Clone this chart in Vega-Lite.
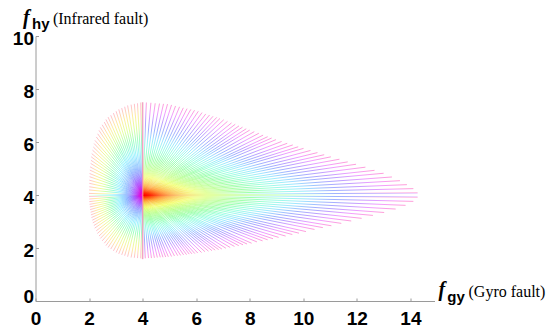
{
  "$schema": "https://vega.github.io/schema/vega-lite/v6.json",
  "width": 399,
  "height": 265,
  "autosize": {"type": "none"},
  "padding": {"left": 35.5, "top": 36, "right": 115.5, "bottom": 35},
  "background": "white",
  "config": {"view": {"stroke": null}, "axis": {"grid": false}},
  "datasets": {
    "ur": [
      {"x":14.27,"y":4.08},{"x":14.11,"y":4.24},{"x":13.87,"y":4.39},{"x":13.61,"y":4.54},{"x":13.31,"y":4.68},{"x":13.0,"y":4.82},{"x":12.66,"y":4.93},{"x":12.32,"y":5.05},{"x":11.97,"y":5.16},{"x":11.66,"y":5.25},{"x":11.35,"y":5.35},{"x":11.03,"y":5.44},{"x":10.78,"y":5.52},{"x":10.53,"y":5.6},{"x":10.27,"y":5.68},{"x":10.01,"y":5.76},{"x":9.81,"y":5.82},{"x":9.61,"y":5.89},{"x":9.4,"y":5.95},{"x":9.19,"y":6.02},{"x":8.98,"y":6.09},{"x":8.82,"y":6.15},{"x":8.67,"y":6.2},{"x":8.5,"y":6.26},{"x":8.34,"y":6.33},{"x":8.17,"y":6.39},{"x":8.0,"y":6.45},{"x":7.87,"y":6.5},{"x":7.73,"y":6.56},{"x":7.6,"y":6.61},{"x":7.46,"y":6.67},{"x":7.32,"y":6.72},{"x":7.17,"y":6.78},{"x":7.03,"y":6.84},{"x":6.89,"y":6.89},{"x":6.77,"y":6.93},{"x":6.63,"y":6.97},{"x":6.5,"y":7.02},{"x":6.36,"y":7.06},{"x":6.22,"y":7.11},{"x":6.08,"y":7.16},{"x":5.94,"y":7.2},{"x":5.8,"y":7.23},{"x":5.66,"y":7.26},{"x":5.52,"y":7.29},{"x":5.38,"y":7.33},{"x":5.23,"y":7.36},{"x":5.08,"y":7.4},{"x":4.93,"y":7.43},{"x":4.78,"y":7.44},{"x":4.63,"y":7.45},{"x":4.47,"y":7.46},{"x":4.31,"y":7.48},{"x":4.14,"y":7.49}
    ],
    "lr": [
      {"x":14.27,"y":3.92},{"x":14.11,"y":3.76},{"x":13.82,"y":3.61},{"x":13.45,"y":3.47},{"x":13.02,"y":3.34},{"x":12.6,"y":3.23},{"x":12.18,"y":3.12},{"x":11.79,"y":3.02},{"x":11.42,"y":2.93},{"x":11.05,"y":2.84},{"x":10.73,"y":2.77},{"x":10.42,"y":2.7},{"x":10.1,"y":2.62},{"x":9.84,"y":2.56},{"x":9.59,"y":2.51},{"x":9.34,"y":2.45},{"x":9.08,"y":2.4},{"x":8.87,"y":2.35},{"x":8.67,"y":2.31},{"x":8.48,"y":2.27},{"x":8.27,"y":2.23},{"x":8.07,"y":2.18},{"x":7.9,"y":2.15},{"x":7.75,"y":2.12},{"x":7.59,"y":2.09},{"x":7.43,"y":2.06},{"x":7.27,"y":2.02},{"x":7.11,"y":1.99},{"x":6.96,"y":1.96},{"x":6.84,"y":1.94},{"x":6.71,"y":1.92},{"x":6.59,"y":1.9},{"x":6.46,"y":1.88},{"x":6.33,"y":1.86},{"x":6.2,"y":1.83},{"x":6.06,"y":1.81},{"x":5.95,"y":1.79},{"x":5.84,"y":1.78},{"x":5.74,"y":1.77},{"x":5.64,"y":1.75},{"x":5.53,"y":1.74},{"x":5.42,"y":1.72},{"x":5.31,"y":1.71},{"x":5.19,"y":1.7},{"x":5.08,"y":1.68},{"x":4.96,"y":1.67},{"x":4.86,"y":1.66},{"x":4.76,"y":1.65},{"x":4.66,"y":1.65},{"x":4.55,"y":1.64},{"x":4.44,"y":1.63},{"x":4.33,"y":1.62},{"x":4.22,"y":1.62},{"x":4.1,"y":1.61}
    ],
    "ul": [
      {"x":2.0,"y":4.06},{"x":2.0,"y":4.19},{"x":2.01,"y":4.31},{"x":2.01,"y":4.44},{"x":2.01,"y":4.56},{"x":2.02,"y":4.69},{"x":2.02,"y":4.81},{"x":2.03,"y":4.94},{"x":2.04,"y":5.06},{"x":2.06,"y":5.19},{"x":2.07,"y":5.31},{"x":2.08,"y":5.44},{"x":2.1,"y":5.56},{"x":2.13,"y":5.69},{"x":2.16,"y":5.81},{"x":2.19,"y":5.94},{"x":2.22,"y":6.06},{"x":2.27,"y":6.19},{"x":2.32,"y":6.31},{"x":2.37,"y":6.44},{"x":2.42,"y":6.55},{"x":2.49,"y":6.65},{"x":2.57,"y":6.75},{"x":2.63,"y":6.85},{"x":2.71,"y":6.94},{"x":2.81,"y":7.01},{"x":2.91,"y":7.09},{"x":3.01,"y":7.16},{"x":3.11,"y":7.23},{"x":3.22,"y":7.28},{"x":3.33,"y":7.33},{"x":3.44,"y":7.38},{"x":3.57,"y":7.41},{"x":3.69,"y":7.44},{"x":3.81,"y":7.46},{"x":3.93,"y":7.49}
    ],
    "ll": [
      {"x":2.0,"y":3.95},{"x":2.01,"y":3.85},{"x":2.01,"y":3.75},{"x":2.02,"y":3.65},{"x":2.03,"y":3.55},{"x":2.04,"y":3.45},{"x":2.06,"y":3.35},{"x":2.07,"y":3.25},{"x":2.09,"y":3.15},{"x":2.12,"y":3.05},{"x":2.14,"y":2.95},{"x":2.18,"y":2.85},{"x":2.21,"y":2.75},{"x":2.27,"y":2.65},{"x":2.31,"y":2.55},{"x":2.37,"y":2.45},{"x":2.42,"y":2.36},{"x":2.49,"y":2.27},{"x":2.57,"y":2.18},{"x":2.63,"y":2.09},{"x":2.71,"y":2.02},{"x":2.81,"y":1.96},{"x":2.91,"y":1.89},{"x":3.01,"y":1.83},{"x":3.11,"y":1.78},{"x":3.22,"y":1.74},{"x":3.33,"y":1.71},{"x":3.44,"y":1.67},{"x":3.57,"y":1.64},{"x":3.69,"y":1.63},{"x":3.81,"y":1.62},{"x":3.93,"y":1.61}
    ],
    "vline": [{"x":4,"y":1.58,"y2":7.5}],
    "one": [{}]
  },
  "layer": [
    {
      "data": {"name": "ll"},
      "mark": {"type": "rule", "strokeWidth": 1, "opacity": 0.38,
        "stroke": {"gradient": "linear", "x1": 1, "y1": 0, "x2": 0, "y2": 1,
          "stops": [{"offset":0,"color":"#ff00cc"},{"offset":0.15,"color":"#8000ff"},{"offset":0.3,"color":"#0060ff"},{"offset":0.45,"color":"#00e0ff"},{"offset":0.6,"color":"#00ff60"},{"offset":0.75,"color":"#c0ff00"},{"offset":0.87,"color":"#ffd000"},{"offset":1,"color":"#ff5080"}]}},
      "encoding": {
        "x": {"field": "x", "type": "quantitative",
          "scale": {"domain": [0, 14.9], "nice": false, "zero": false},
          "axis": {"values": [0,0.5,1,1.5,2,2.5,3,3.5,4,4.5,5,5.5,6,6.5,7,7.5,8,8.5,9,9.5,10,10.5,11,11.5,12,12.5,13,13.5,14,14.5],
            "labelExpr": "datum.value % 2 === 0 ? datum.label : ''",
            "title": null, "domainColor": "#9a9a9a", "tickColor": "#9a9a9a", "tickSize": -3,
            "labelPadding": 11, "labelFont": "Liberation Sans", "labelFontWeight": "bold", "labelFontSize": 19,
            "labelColor": "#000000", "labelFlush": false, "labelOverlap": false, "labelBound": false}},
        "y": {"field": "y", "type": "quantitative",
          "scale": {"domain": [0, 10], "nice": false, "zero": false},
          "axis": {"values": [0,0.5,1,1.5,2,2.5,3,3.5,4,4.5,5,5.5,6,6.5,7,7.5,8,8.5,9,9.5,10],
            "labelExpr": "datum.value % 2 === 0 ? datum.label : ''",
            "title": null, "domainColor": "#9a9a9a", "tickColor": "#9a9a9a", "tickSize": -3,
            "labelPadding": 5, "labelFont": "Liberation Sans", "labelFontWeight": "bold", "labelFontSize": 19,
            "labelColor": "#000000", "labelFlush": false, "labelOverlap": false, "labelBound": false,
            "labelOffset": {"condition": {"test": "datum.value === 0", "value": -5}, "value": 2}}},
        "x2": {"datum": 4},
        "y2": {"datum": 4}
      }
    },
    {
      "data": {"name": "ul"},
      "mark": {"type": "rule", "strokeWidth": 1, "opacity": 0.38,
        "stroke": {"gradient": "linear", "x1": 1, "y1": 1, "x2": 0, "y2": 0,
          "stops": [{"offset":0,"color":"#ff00cc"},{"offset":0.15,"color":"#8000ff"},{"offset":0.3,"color":"#0060ff"},{"offset":0.45,"color":"#00e0ff"},{"offset":0.6,"color":"#00ff60"},{"offset":0.75,"color":"#c0ff00"},{"offset":0.87,"color":"#ffd000"},{"offset":1,"color":"#ff5080"}]}},
      "encoding": {
        "x": {"field": "x", "type": "quantitative"},
        "y": {"field": "y", "type": "quantitative"},
        "x2": {"datum": 4},
        "y2": {"datum": 4}
      }
    },
    {
      "data": {"name": "lr"},
      "mark": {"type": "rule", "strokeWidth": 1, "opacity": 0.38,
        "stroke": {"gradient": "linear", "x1": 0, "y1": 0, "x2": 1, "y2": 1,
          "stops": [{"offset":0,"color":"#ff0000"},{"offset":0.1,"color":"#ff8a00"},{"offset":0.2,"color":"#eaff00"},{"offset":0.3,"color":"#62ff00"},{"offset":0.4,"color":"#00ff2a"},{"offset":0.5,"color":"#00ffb3"},{"offset":0.6,"color":"#00c4ff"},{"offset":0.7,"color":"#0037ff"},{"offset":0.8,"color":"#5100ff"},{"offset":0.9,"color":"#dd00ff"},{"offset":1,"color":"#ff0099"}]}},
      "encoding": {
        "x": {"field": "x", "type": "quantitative"},
        "y": {"field": "y", "type": "quantitative"},
        "x2": {"datum": 4},
        "y2": {"datum": 4}
      }
    },
    {
      "data": {"name": "ur"},
      "mark": {"type": "rule", "strokeWidth": 1, "opacity": 0.38,
        "stroke": {"gradient": "linear", "x1": 0, "y1": 1, "x2": 1, "y2": 0,
          "stops": [{"offset":0,"color":"#ff0000"},{"offset":0.1,"color":"#ff8a00"},{"offset":0.2,"color":"#eaff00"},{"offset":0.3,"color":"#62ff00"},{"offset":0.4,"color":"#00ff2a"},{"offset":0.5,"color":"#00ffb3"},{"offset":0.6,"color":"#00c4ff"},{"offset":0.7,"color":"#0037ff"},{"offset":0.8,"color":"#5100ff"},{"offset":0.9,"color":"#dd00ff"},{"offset":1,"color":"#ff0099"}]}},
      "encoding": {
        "x": {"field": "x", "type": "quantitative"},
        "y": {"field": "y", "type": "quantitative"},
        "x2": {"datum": 4},
        "y2": {"datum": 4}
      }
    },
    {
      "data": {"name": "vline"},
      "mark": {"type": "rule", "strokeWidth": 1.5, "color": "#f08cb4", "opacity": 0.8},
      "encoding": {
        "x": {"field": "x", "type": "quantitative"},
        "y": {"field": "y", "type": "quantitative"},
        "y2": {"field": "y2"}
      }
    },
    {
      "data": {"name": "one"},
      "mark": {"type": "text", "text": "f", "font": "Liberation Serif", "fontStyle": "italic", "fontWeight": "bold", "fontSize": 20, "align": "left", "baseline": "alphabetic", "color": "#000000"},
      "encoding": {"x": {"datum": -0.47}, "y": {"datum": 10.45}}
    },
    {
      "data": {"name": "one"},
      "mark": {"type": "text", "text": "hy", "font": "Liberation Sans", "fontWeight": "bold", "fontSize": 15, "align": "left", "baseline": "alphabetic", "color": "#000000"},
      "encoding": {"x": {"datum": -0.13}, "y": {"datum": 10.26}}
    },
    {
      "data": {"name": "one"},
      "mark": {"type": "text", "text": "(Infrared fault)", "font": "Liberation Serif", "fontSize": 16, "align": "left", "baseline": "alphabetic", "color": "#000000"},
      "encoding": {"x": {"datum": 0.65}, "y": {"datum": 10.45}}
    },
    {
      "data": {"name": "one"},
      "mark": {"type": "text", "text": "f", "font": "Liberation Serif", "fontStyle": "italic", "fontWeight": "bold", "fontSize": 20, "align": "left", "baseline": "alphabetic", "color": "#000000"},
      "encoding": {"x": {"datum": 15.05}, "y": {"datum": 0.19}}
    },
    {
      "data": {"name": "one"},
      "mark": {"type": "text", "text": "gy", "font": "Liberation Sans", "fontWeight": "bold", "fontSize": 15, "align": "left", "baseline": "alphabetic", "color": "#000000"},
      "encoding": {"x": {"datum": 15.38}, "y": {"datum": -0.04}}
    },
    {
      "data": {"name": "one"},
      "mark": {"type": "text", "text": "(Gyro fault)", "font": "Liberation Serif", "fontSize": 16, "align": "left", "baseline": "alphabetic", "color": "#000000"},
      "encoding": {"x": {"datum": 16.17}, "y": {"datum": 0.15}}
    }
  ]
}
